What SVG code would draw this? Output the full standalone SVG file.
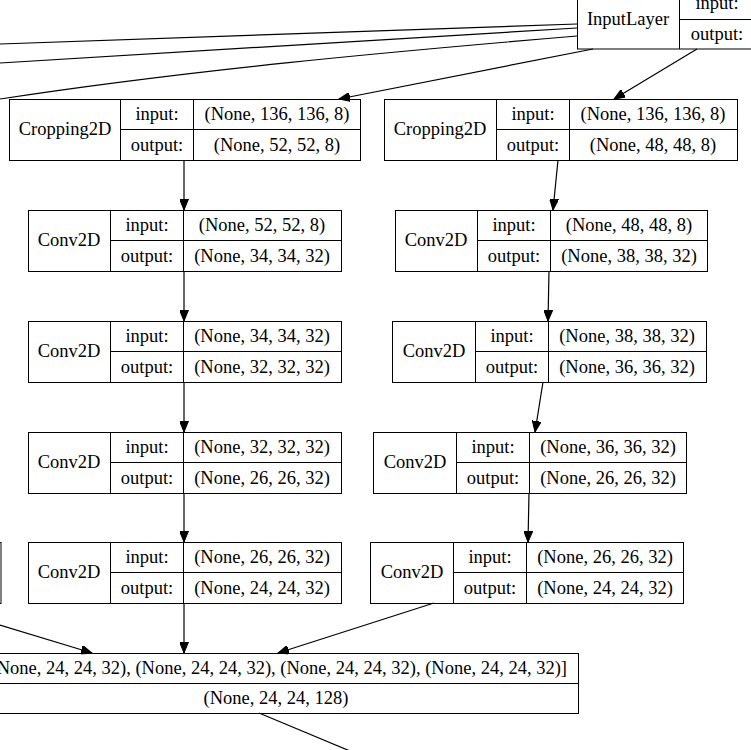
<svg xmlns="http://www.w3.org/2000/svg" width="751" height="750" viewBox="0 0 751 750">
<style>
.b{fill:none;stroke:#000;stroke-width:1}
.e{fill:none;stroke:#000;stroke-width:1.2}
text{font-family:"Liberation Serif","Times New Roman",serif;font-size:18.5px;fill:#000;text-anchor:middle}
</style>
<defs>
<marker id="ah" markerUnits="userSpaceOnUse" markerWidth="12" markerHeight="9" refX="11" refY="4.5" orient="auto" viewBox="0 0 12 9">
<path d="M0,0 L11,4.5 L0,9 z" fill="#000" stroke="#000" stroke-width="1"/>
</marker>
</defs>
<rect x="0" y="0" width="751" height="750" fill="#fff"/>

<g id="connectors">
<path class="e" d="M577,24 L0,44"/>
<path class="e" d="M577,28 L0,63"/>
<path class="e" d="M577,36 C387,52 190,70 0,99"/>
<path class="e" d="M593,49 L339,99" marker-end="url(#ah)"/>
<path class="e" d="M697,49 L614,99" marker-end="url(#ah)"/>
<path class="e" d="M184,160 L184,210" marker-end="url(#ah)"/>
<path class="e" d="M184,271 L184,321" marker-end="url(#ah)"/>
<path class="e" d="M184,382 L184,432" marker-end="url(#ah)"/>
<path class="e" d="M184,493 L184,542" marker-end="url(#ah)"/>
<path class="e" d="M184,603 L184,653" marker-end="url(#ah)"/>
<path class="e" d="M558,160 L553,210" marker-end="url(#ah)"/>
<path class="e" d="M549,271 L548,321" marker-end="url(#ah)"/>
<path class="e" d="M543,382 L535,432" marker-end="url(#ah)"/>
<path class="e" d="M529,493 L528,542" marker-end="url(#ah)"/>
<path class="e" d="M434,603 L278,653" marker-end="url(#ah)"/>
<path class="e" d="M0,625 L92,653" marker-end="url(#ah)"/>
<path class="e" d="M259,713 L350,751"/>
</g>

<g id="input_layer">
<rect class="b" x="577.5" y="-11.5" width="400" height="60.5"/>
<path class="b" d="M679.5,-11 V49 M679.5,19.5 H980 M755.5,-11 V49"/>
<text x="628" y="25">InputLayer</text>
<text x="717" y="9">input:</text>
<text x="717" y="40">output:</text>
</g>

<g id="left_partial">
<rect class="b" x="-300" y="542.5" width="301" height="61"/>
</g>

<g id="crop_left">
<rect class="b" x="9.5" y="99.5" width="351" height="61"/>
<path class="b" d="M120.5,99.5 V160.5 M193.5,99.5 V160.5 M120.5,129.5 H360.5"/>
<text x="65" y="135">Cropping2D</text>
<text x="157" y="120">input:</text>
<text x="157" y="151">output:</text>
<text x="277" y="120">(None, 136, 136, 8)</text>
<text x="277" y="151">(None, 52, 52, 8)</text>
</g>

<g id="crop_right">
<rect class="b" x="384.5" y="99.5" width="353" height="61"/>
<path class="b" d="M496.5,99.5 V160.5 M569.5,99.5 V160.5 M496.5,129.5 H737.5"/>
<text x="440" y="135">Cropping2D</text>
<text x="533" y="120">input:</text>
<text x="533" y="151">output:</text>
<text x="653" y="120">(None, 136, 136, 8)</text>
<text x="653" y="151">(None, 48, 48, 8)</text>
</g>

<g id="conv_l1">
<rect class="b" x="28.5" y="210.5" width="313" height="61"/>
<path class="b" d="M110.5,210.5 V271.5 M183.5,210.5 V271.5 M110.5,240.5 H341.5"/>
<text x="69" y="246">Conv2D</text>
<text x="147" y="231">input:</text>
<text x="147" y="262">output:</text>
<text x="262" y="231">(None, 52, 52, 8)</text>
<text x="262" y="262">(None, 34, 34, 32)</text>
</g>

<g id="conv_l2">
<rect class="b" x="28.5" y="321.5" width="313" height="61"/>
<path class="b" d="M110.5,321.5 V382.5 M183.5,321.5 V382.5 M110.5,351.5 H341.5"/>
<text x="69" y="357">Conv2D</text>
<text x="147" y="342">input:</text>
<text x="147" y="373">output:</text>
<text x="262" y="342">(None, 34, 34, 32)</text>
<text x="262" y="373">(None, 32, 32, 32)</text>
</g>

<g id="conv_l3">
<rect class="b" x="28.5" y="432.5" width="313" height="61"/>
<path class="b" d="M110.5,432.5 V493.5 M183.5,432.5 V493.5 M110.5,462.5 H341.5"/>
<text x="69" y="468">Conv2D</text>
<text x="147" y="453">input:</text>
<text x="147" y="484">output:</text>
<text x="262" y="453">(None, 32, 32, 32)</text>
<text x="262" y="484">(None, 26, 26, 32)</text>
</g>

<g id="conv_l4">
<rect class="b" x="28.5" y="542.5" width="313" height="61"/>
<path class="b" d="M110.5,542.5 V603.5 M183.5,542.5 V603.5 M110.5,572.5 H341.5"/>
<text x="69" y="578">Conv2D</text>
<text x="147" y="563">input:</text>
<text x="147" y="594">output:</text>
<text x="262" y="563">(None, 26, 26, 32)</text>
<text x="262" y="594">(None, 24, 24, 32)</text>
</g>

<g id="conv_r1">
<rect class="b" x="395.5" y="210.5" width="312" height="61"/>
<path class="b" d="M477.5,210.5 V271.5 M550.5,210.5 V271.5 M477.5,240.5 H707.5"/>
<text x="436" y="246">Conv2D</text>
<text x="514" y="231">input:</text>
<text x="514" y="262">output:</text>
<text x="629" y="231">(None, 48, 48, 8)</text>
<text x="629" y="262">(None, 38, 38, 32)</text>
</g>

<g id="conv_r2">
<rect class="b" x="392.5" y="321.5" width="314" height="61"/>
<path class="b" d="M475.5,321.5 V382.5 M548.5,321.5 V382.5 M475.5,351.5 H706.5"/>
<text x="434" y="357">Conv2D</text>
<text x="512" y="342">input:</text>
<text x="512" y="373">output:</text>
<text x="627" y="342">(None, 38, 38, 32)</text>
<text x="627" y="373">(None, 36, 36, 32)</text>
</g>

<g id="conv_r3">
<rect class="b" x="373.5" y="432.5" width="313" height="61"/>
<path class="b" d="M456.5,432.5 V493.5 M529.5,432.5 V493.5 M456.5,462.5 H686.5"/>
<text x="415" y="468">Conv2D</text>
<text x="493" y="453">input:</text>
<text x="493" y="484">output:</text>
<text x="608" y="453">(None, 36, 36, 32)</text>
<text x="608" y="484">(None, 26, 26, 32)</text>
</g>

<g id="conv_r4">
<rect class="b" x="370.5" y="542.5" width="313" height="61"/>
<path class="b" d="M453.5,542.5 V603.5 M526.5,542.5 V603.5 M453.5,572.5 H683.5"/>
<text x="412" y="578">Conv2D</text>
<text x="490" y="563">input:</text>
<text x="490" y="594">output:</text>
<text x="605" y="563">(None, 26, 26, 32)</text>
<text x="605" y="594">(None, 24, 24, 32)</text>
</g>

<g id="concat">
<rect class="b" x="-300" y="653.5" width="878.5" height="60"/>
<path class="b" d="M-26.5,653.5 V713.5 M-26.5,683.5 H578.5"/>
<text x="567" y="674" style="text-anchor:end">[(None, 24, 24, 32), (None, 24, 24, 32), (None, 24, 24, 32), (None, 24, 24, 32)]</text>
<text x="276" y="704">(None, 24, 24, 128)</text>
</g>
</svg>
